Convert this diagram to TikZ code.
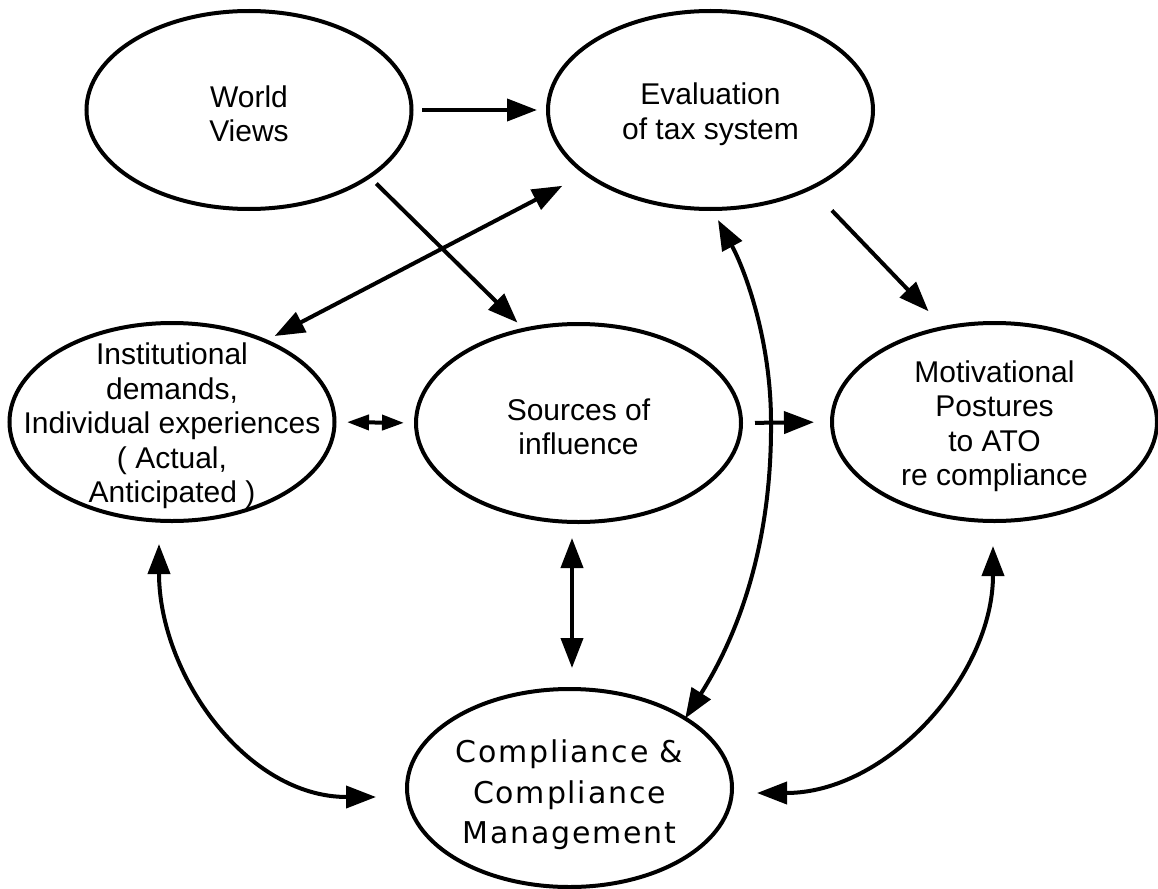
\documentclass[tikz,border=0pt]{standalone}
\usepackage{fontspec}
\setmainfont{Liberation Sans}
\newfontfamily\compfont[LetterSpace=6]{DejaVu Sans}
\usetikzlibrary{arrows.meta,shapes.geometric,calc}
\tikzset{
  ell/.style={draw, ellipse, line width=4pt, minimum width=325pt, minimum height=198pt, inner sep=0pt, outer sep=0pt},
  txt/.style={align=center, font=\fontsize{30}{34.5}\selectfont, inner sep=0pt, yshift=-4pt},
  ctxt/.style={align=center, font=\compfont\fontsize{30}{40.5}\selectfont, inner sep=0pt, yshift=-7pt},
  con/.style={line width=4pt},
  >={Triangle[length=30pt,width=22pt]},
  smallarr/.style={{Triangle[length=22pt,width=15pt]}-{Triangle[length=22pt,width=15pt]}}
}
\begin{document}
\begin{tikzpicture}[x=1pt,y=-1pt]
\fill[white] (0,0) rectangle (1158,888);
\useasboundingbox (0,0) rectangle (1158,888);
% ellipses
\node[ell] (world) at (249,110) {};
\node[ell] (eval) at (710.5,110) {};
\node[ell] (inst) at (172,422) {};
\node[ell] (src) at (578.5,423) {};
\node[ell] (mot) at (994.5,422) {};
\node[ell] (comp) at (569.5,788) {};
% texts
\node[txt] (worldt) at (world) {World\\Views};
\node[txt] (evalt) at (eval) {Evaluation\\of tax system};
\node[txt] (instt) at (inst) {Institutional\\demands,\\Individual experiences\\( Actual,\\Anticipated )};
\node[txt] (srct) at (src) {Sources of\\influence};
\node[txt] (mott) at (mot) {Motivational\\Postures\\to ATO\\re compliance};
\node[ctxt] (compt) at (comp) {Compliance \&\\Compliance\\Management};
% connectors
\draw[con,->,shorten <=10.5pt,shorten >=11pt] (world.east) -- (eval.west);
\draw[con,->,shorten <=10pt,shorten >=10pt] (world.-29.2) -- (src.120.4);
\draw[con,<->,shorten <=10.6pt,shorten >=26.6pt] (inst.41.4) -- (eval.207.6);
\draw[con,->,shorten <=31pt,shorten >=23pt] (eval.-38.7) -- (mot.118.5);
\draw[con,smallarr,shorten <=12.5pt,shorten >=12pt] (inst.east) -- (src.west);
\draw[con,->,shorten <=14pt,shorten >=18pt] (src.east) -- (mot.west);
\draw[con,<->,shorten <=16pt,shorten >=21pt] ([xshift=-6.5pt]src.south) -- ([xshift=2.5pt]comp.north);
\draw[con,<->] ([shift={(-13,23)}]inst.south) .. controls +(0,130) and +(-130,0) .. ([shift={(-31,9)}]comp.west);
\draw[con,<->] ([shift={(-1.5,25)}]mot.south) .. controls +(0,130) and +(130,0) .. ([shift={(25,5)}]comp.east);
\draw[con,<->] (comp.31.4) .. controls (735,640) and (772,550) .. (771,422) .. controls (771,340) and (745,270) .. ([shift={(7.5,11)}]eval.south);
\end{tikzpicture}
\end{document}
